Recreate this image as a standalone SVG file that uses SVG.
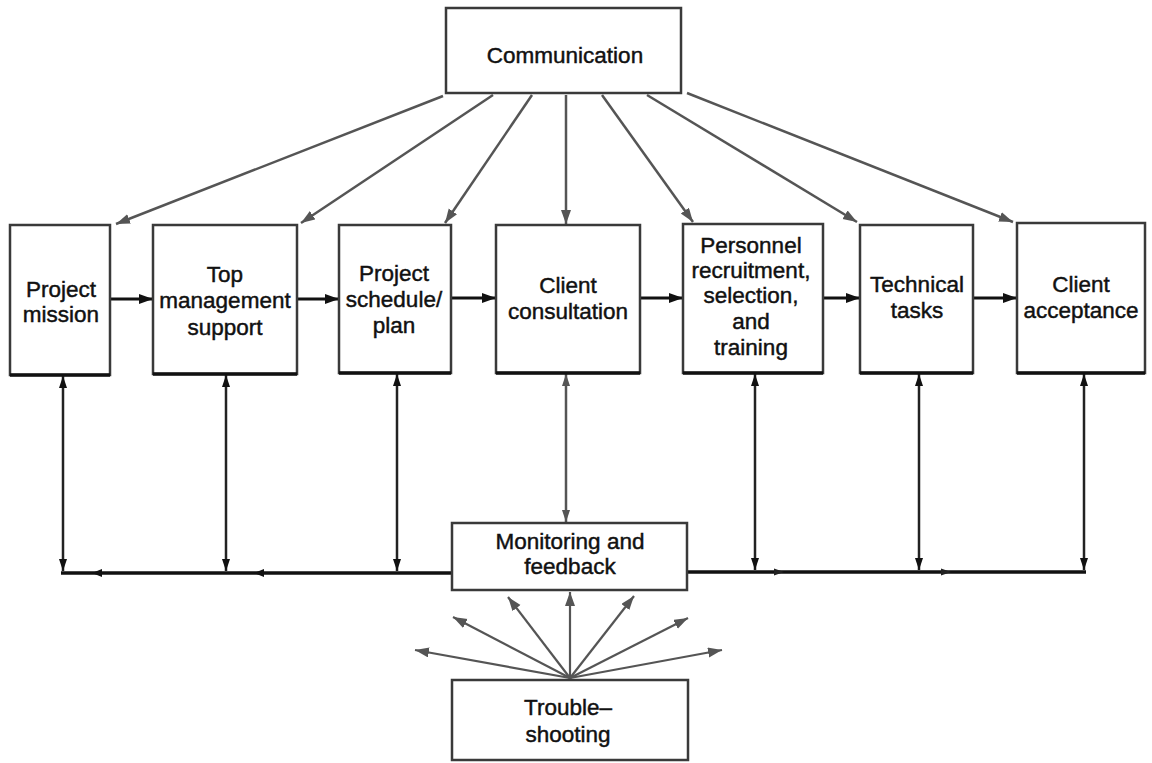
<svg xmlns="http://www.w3.org/2000/svg" width="1152" height="763" viewBox="0 0 1152 763">
<style>
.box{fill:#fff;stroke:#3a3a3a;stroke-width:2.5}
.base{stroke:#111;stroke-width:3.5}
.t{font-family:"Liberation Sans",Arial,sans-serif;font-size:22.5px;fill:#111;stroke:#111;stroke-width:0.45;text-anchor:middle}
.comm{stroke:#555;stroke-width:2.5;fill:none;marker-end:url(#ag)}
.flow{stroke:#111;stroke-width:3;fill:none;marker-end:url(#ab)}
.dbl{stroke:#222;stroke-width:2.5;fill:none;marker-start:url(#as);marker-end:url(#as)}
.bar{stroke:#111;stroke-width:3.5;fill:none}
.fan{stroke:#555;stroke-width:2.2;fill:none;marker-end:url(#ag)}
</style>
<defs>
<marker id="ag" markerUnits="userSpaceOnUse" markerWidth="16" markerHeight="12" refX="14" refY="5" orient="auto"><path d="M0,0 L14,5 L0,10 Z" fill="#555"/></marker>
<marker id="ab" markerUnits="userSpaceOnUse" markerWidth="16" markerHeight="12" refX="14" refY="5" orient="auto"><path d="M0,0 L14,5 L0,10 Z" fill="#111"/></marker>
<marker id="as" markerUnits="userSpaceOnUse" markerWidth="14" markerHeight="10" refX="12" refY="4" orient="auto-start-reverse"><path d="M0,0 L12,4 L0,8 Z" fill="#111"/></marker>
<marker id="asg" markerUnits="userSpaceOnUse" markerWidth="14" markerHeight="10" refX="12" refY="4" orient="auto-start-reverse"><path d="M0,0 L12,4 L0,8 Z" fill="#555"/></marker>
</defs>
<rect width="1152" height="763" fill="#fff"/>

<g id="connectors">
  <line class="comm" x1="443" y1="96" x2="116" y2="224"/>
  <line class="comm" x1="493" y1="95" x2="301" y2="223"/>
  <line class="comm" x1="532" y1="95" x2="445" y2="223"/>
  <line class="comm" x1="566" y1="95" x2="566" y2="224"/>
  <line class="comm" x1="602" y1="95" x2="693" y2="222"/>
  <line class="comm" x1="647" y1="95" x2="857" y2="222"/>
  <line class="comm" x1="687" y1="93" x2="1013" y2="222"/>
  <line class="flow" x1="110" y1="299" x2="153" y2="299"/>
  <line class="flow" x1="297" y1="299" x2="339" y2="299"/>
  <line class="flow" x1="451" y1="298" x2="496" y2="298"/>
  <line class="flow" x1="640" y1="298" x2="683" y2="298"/>
  <line class="flow" x1="823" y1="298" x2="860" y2="298"/>
  <line class="flow" x1="973" y1="298" x2="1017" y2="298"/>
  <line class="bar" x1="452" y1="573" x2="61" y2="573"/>
  <line class="bar" x1="686" y1="572" x2="1086" y2="572"/>
  <path d="M92,573 L102,569 L102,577 Z" fill="#111"/>
  <path d="M254,573 L264,569 L264,577 Z" fill="#111"/>
  <path d="M784,572 L774,568.5 L774,575.5 Z" fill="#222"/>
  <path d="M951,572 L941,568.5 L941,575.5 Z" fill="#222"/>
  <line class="dbl" x1="63" y1="376" x2="63" y2="571"/>
  <line class="dbl" x1="226" y1="375" x2="226" y2="571"/>
  <line class="dbl" x1="397" y1="374" x2="397" y2="571"/>
  <line class="dbl" x1="755" y1="374" x2="755" y2="570"/>
  <line class="dbl" x1="919" y1="374" x2="919" y2="570"/>
  <line class="dbl" x1="1084" y1="374" x2="1084" y2="570"/>
  <line x1="566" y1="374" x2="566" y2="522" stroke="#555" stroke-width="2.5" marker-start="url(#asg)" marker-end="url(#asg)"/>
  <line class="fan" x1="570" y1="678" x2="415" y2="650"/>
  <line class="fan" x1="570" y1="678" x2="453" y2="617"/>
  <line class="fan" x1="570" y1="678" x2="508" y2="597"/>
  <line class="fan" x1="570" y1="678" x2="570" y2="592"/>
  <line class="fan" x1="570" y1="678" x2="634" y2="596"/>
  <line class="fan" x1="570" y1="678" x2="688" y2="618"/>
  <line class="fan" x1="570" y1="678" x2="722" y2="650"/>
</g>

<g id="communication">
  <rect class="box" x="446" y="8" width="235" height="85"/>
  <text class="t" x="565" y="63" font-size="24">Communication</text>
</g>

<g id="project-mission">
  <rect class="box" x="10" y="225" width="100" height="150"/>
  <line class="base" x1="10" y1="375" x2="110" y2="375"/>
  <text class="t" x="61" y="297">Project</text>
  <text class="t" x="61" y="322">mission</text>
</g>

<g id="top-management">
  <rect class="box" x="153" y="225" width="144" height="149"/>
  <line class="base" x1="153" y1="374" x2="297" y2="374"/>
  <text class="t" x="225" y="282">Top</text>
  <text class="t" x="225" y="308">management</text>
  <text class="t" x="225" y="335">support</text>
</g>

<g id="project-schedule">
  <rect class="box" x="339" y="225" width="112" height="148"/>
  <line class="base" x1="339" y1="373" x2="451" y2="373"/>
  <text class="t" x="394" y="281">Project</text>
  <text class="t" x="394" y="307">schedule/</text>
  <text class="t" x="394" y="333">plan</text>
</g>

<g id="client-consultation">
  <rect class="box" x="496" y="225" width="144" height="148"/>
  <line class="base" x1="496" y1="373" x2="640" y2="373"/>
  <text class="t" x="568" y="293">Client</text>
  <text class="t" x="568" y="319">consultation</text>
</g>

<g id="personnel">
  <rect class="box" x="683" y="224" width="140" height="149"/>
  <line class="base" x1="683" y1="373" x2="823" y2="373"/>
  <text class="t" x="751" y="253">Personnel</text>
  <text class="t" x="751" y="278">recruitment,</text>
  <text class="t" x="751" y="303">selection,</text>
  <text class="t" x="751" y="329">and</text>
  <text class="t" x="751" y="355">training</text>
</g>

<g id="technical-tasks">
  <rect class="box" x="860" y="225" width="113" height="148"/>
  <line class="base" x1="860" y1="373" x2="973" y2="373"/>
  <text class="t" x="917" y="292">Technical</text>
  <text class="t" x="917" y="318">tasks</text>
</g>

<g id="client-acceptance">
  <rect class="box" x="1017" y="223" width="128" height="150"/>
  <line class="base" x1="1017" y1="373" x2="1145" y2="373"/>
  <text class="t" x="1081" y="292">Client</text>
  <text class="t" x="1081" y="318">acceptance</text>
</g>

<g id="monitoring">
  <rect class="box" x="452" y="523" width="235" height="67"/>
  <text class="t" x="570" y="549">Monitoring and</text>
  <text class="t" x="570" y="574">feedback</text>
</g>

<g id="troubleshooting">
  <rect class="box" x="452" y="680" width="236" height="80"/>
  <text class="t" x="568" y="715">Trouble–</text>
  <text class="t" x="568" y="742">shooting</text>
</g>
</svg>
